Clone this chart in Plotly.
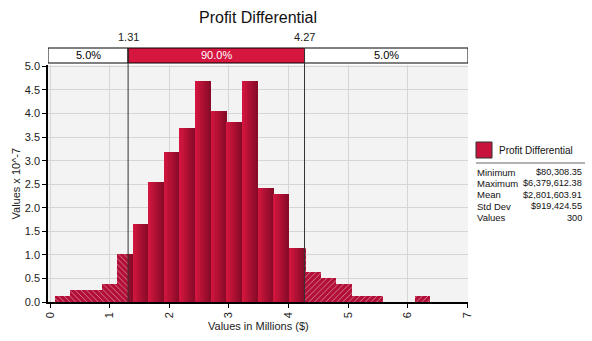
import plotly.graph_objects as go

# ---------------- data ----------------
title_text = "Profit Differential"
min_value = 80308.35
max_value = 6379612.38
mean_value = 2801603.91
std_value = 919424.55
n_values = 300
bin_counts = [1, 2, 2, 3, 8, 13, 20, 25, 29, 37, 32, 30, 37, 19, 18, 9, 5, 4, 3, 1, 1, 0, 0, 1]
cut_low = 1.31
cut_high = 4.27
pct_labels = ["5.0%", "90.0%", "5.0%"]
stat_names = ["Minimum", "Maximum", "Mean", "Std Dev", "Values"]
stat_values = ["$80,308.35", "$6,379,612.38", "$2,801,603.91", "$919,424.55", "300"]

# ---------------- styling ----------------
FONT = "Liberation Sans"
CRIMSON = "#D6163F"
C_LEFT = (214, 22, 63)
C_RIGHT = (132, 10, 38)
HATCH_BG = "#B20E37"
X_RANGE = [-0.034, 7.013]
Y_RANGE = [0, 5.03]
ML, MR, MT, MB = 48, 124, 65, 39
W, H = 592, 341
PW = W - ML - MR
PH = H - MT - MB


def px_x(px):
    return (px - ML) / PW


def px_y(py):
    return (H - MB - py) / PH


lo_m = min_value / 1e6
hi_m = max_value / 1e6
nb = len(bin_counts)
bw = (hi_m - lo_m) / nb
scale = 10.0 / (n_values * bw)  # density in 10^-7 per $

solid_x, solid_w, solid_y, solid_c = [], [], [], []
hl_x, hl_w, hl_y = [], [], []
hr_x, hr_w, hr_y = [], [], []
K = 10
for i, c in enumerate(bin_counts):
    if c == 0:
        continue
    a = lo_m + i * bw
    b = a + bw
    h = c * scale
    if a < cut_low:
        e = min(b, cut_low)
        hl_x.append((a + e) / 2)
        hl_w.append(e - a)
        hl_y.append(h)
    if b > cut_high:
        s = max(a, cut_high)
        hr_x.append((s + b) / 2)
        hr_w.append(b - s)
        hr_y.append(h)
    s = max(a, cut_low)
    e = min(b, cut_high)
    if e > s:
        for k in range(K):
            sa = a + bw * k / K
            sb = a + bw * (k + 1) / K
            sa2, sb2 = max(sa, s), min(sb, e)
            if sb2 <= sa2:
                continue
            t = (k + 0.5) / K
            col = tuple(int(round(C_LEFT[j] + (C_RIGHT[j] - C_LEFT[j]) * t)) for j in range(3))
            solid_x.append((sa2 + sb2) / 2)
            solid_w.append((sb2 - sa2) * 1.02)
            solid_y.append(h)
            solid_c.append("rgb(%d,%d,%d)" % col)

fig = go.Figure()
fig.add_trace(go.Bar(x=solid_x, y=solid_y, width=solid_w,
                     marker=dict(color=solid_c, line=dict(width=0)),
                     hoverinfo="skip", showlegend=False))
fig.add_trace(go.Bar(x=hl_x, y=hl_y, width=hl_w,
                     marker=dict(color=HATCH_BG, line=dict(width=0),
                                 pattern=dict(shape="\\", fgcolor="white", bgcolor=HATCH_BG,
                                              size=4, solidity=0.22)),
                     hoverinfo="skip", showlegend=False))
fig.add_trace(go.Bar(x=hr_x, y=hr_y, width=hr_w,
                     marker=dict(color=HATCH_BG, line=dict(width=0),
                                 pattern=dict(shape="/", fgcolor="white", bgcolor=HATCH_BG,
                                              size=4, solidity=0.22)),
                     hoverinfo="skip", showlegend=False))

# cutoff markers
tri_y = (H - MB - 48) * (Y_RANGE[1] - Y_RANGE[0]) / PH
fig.add_trace(go.Scatter(x=[cut_low, cut_high], y=[tri_y, tri_y], mode="markers",
                         marker=dict(symbol="triangle-down", size=9, color="#333333"),
                         cliponaxis=False, hoverinfo="skip", showlegend=False))

shapes = []
bar_y0 = px_y(63)
bar_y1 = px_y(48)
segs = [(X_RANGE[0], cut_low, "white"), (cut_low, cut_high, CRIMSON), (cut_high, X_RANGE[1], "white")]
for (x0, x1, fc) in segs:
    shapes.append(dict(type="rect", xref="x", yref="paper", x0=x0, x1=x1, y0=bar_y0, y1=bar_y1,
                       fillcolor=fc, line=dict(color="black", width=1), layer="above"))
for xc in (cut_low, cut_high):
    shapes.append(dict(type="line", xref="x", yref="paper", x0=xc, x1=xc, y0=0, y1=bar_y1,
                       line=dict(color="#333333", width=1), layer="above"))

annotations = []


def ann(x, y, text, xref="paper", yref="paper", xanchor="center", size=11, color="#222222", angle=0):
    annotations.append(dict(x=x, y=y, xref=xref, yref=yref, text=text, showarrow=False,
                            xanchor=xanchor, yanchor="middle", textangle=angle,
                            font=dict(family=FONT, size=size, color=color)))


for (x0, x1, fc), lab in zip(segs, pct_labels):
    ann((x0 + x1) / 2, (bar_y0 + bar_y1) / 2, lab, xref="x",
        color="white" if fc != "white" else "black")
for xc in (cut_low, cut_high):
    ann(xc, px_y(37), "%.2f" % xc, xref="x")

ann(0.5, px_y(18), title_text, size=16, color="#111111")
ann(0.5, px_y(326), "Values in Millions ($)")
ann(px_x(15), 0.5, "Values x 10^-7", angle=-90)

# legend box
shapes.append(dict(type="rect", xref="paper", yref="paper", x0=px_x(476), x1=px_x(492),
                   y0=px_y(158), y1=px_y(142), fillcolor="#C8143C", line=dict(color="#333333", width=1)))
ann(px_x(497), px_y(150), title_text, xanchor="left", size=10, color="#111111")
shapes.append(dict(type="line", xref="paper", yref="paper", x0=px_x(476), x1=px_x(585),
                   y0=px_y(163), y1=px_y(163), line=dict(color="#999999", width=1.5)))
row_y = [172, 183, 194.5, 206, 217.5]
for nm, vl, ry in zip(stat_names, stat_values, row_y):
    ann(px_x(475), px_y(ry), nm, xanchor="left", size=9.5, color="#111111")
    ann(px_x(584), px_y(ry), vl, xanchor="right", size=9.2, color="#111111")

fig.update_layout(
    width=W, height=H, autosize=False,
    margin=dict(l=ML, r=MR, t=MT, b=MB, pad=0),
    paper_bgcolor="white", plot_bgcolor="#F3F3F3",
    barmode="overlay", bargap=0,
    font=dict(family=FONT, size=11, color="#222222"),
    shapes=shapes, annotations=annotations,
    xaxis=dict(range=X_RANGE, tickmode="linear", tick0=0, dtick=1, tickangle=-90,
               showgrid=True, gridcolor="#D6D6D6", gridwidth=1, zeroline=False,
               showline=True, linecolor="black", linewidth=1.5,
               ticks="outside", ticklen=4, tickcolor="black",
               tickfont=dict(family=FONT, size=11, color="#222222")),
    yaxis=dict(range=Y_RANGE, tickmode="linear", tick0=0, dtick=0.5, tickformat=".1f",
               showgrid=True, gridcolor="#D6D6D6", gridwidth=1, zeroline=False,
               showline=True, linecolor="black", linewidth=1.5,
               ticks="outside", ticklen=4, tickcolor="black",
               tickfont=dict(family=FONT, size=11, color="#222222")),
)

fig.write_html("out.html")
